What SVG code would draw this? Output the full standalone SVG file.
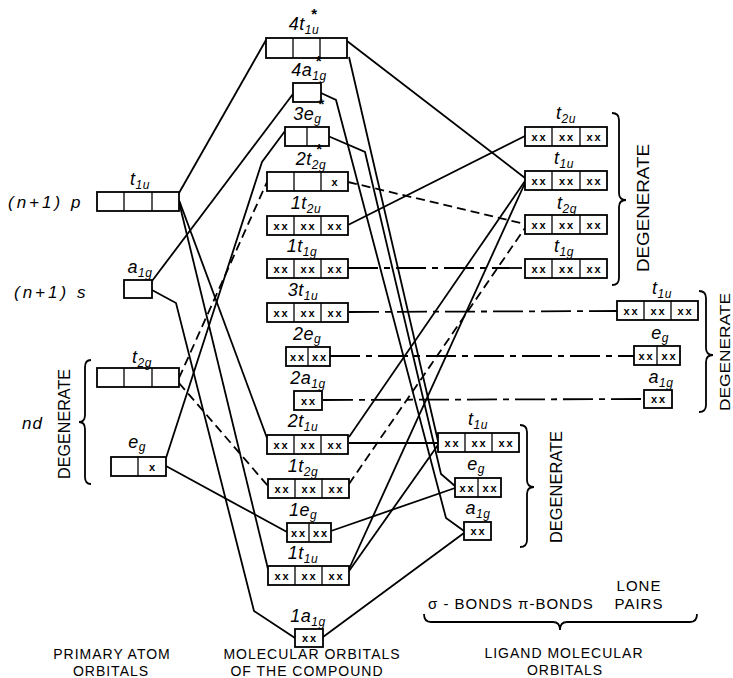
<svg xmlns="http://www.w3.org/2000/svg" width="733" height="678" viewBox="0 0 733 678">
<style>
.bx{fill:#fff;stroke:#000;stroke-width:1.8}
.dv{stroke:#000;stroke-width:1.3}
.xx{font-family:"Liberation Sans",Arial,sans-serif;font-size:11px;font-weight:bold;letter-spacing:2px;text-anchor:middle}
.lbl{font-family:"Liberation Sans",Arial,sans-serif;font-style:italic;font-size:18px;text-anchor:middle;letter-spacing:0.5px}
.sub{font-size:12px}
.ast{font-size:15px;font-style:normal;font-weight:bold}
.ln{stroke:#000;stroke-width:1.8;fill:none}
.dash{stroke-dasharray:9 5}
.chain{stroke-dasharray:30 6 6 6}
.txt{font-family:"Liberation Sans",Arial,sans-serif;font-size:15px;letter-spacing:1px}
.cap{font-family:"Liberation Sans",Arial,sans-serif;font-size:14px;letter-spacing:1px;text-anchor:middle}
.itx{font-family:"Liberation Sans",Arial,sans-serif;font-size:17px;font-style:italic;letter-spacing:3px}
.deg{font-family:"Liberation Sans",Arial,sans-serif;font-size:16px;text-anchor:middle}
.br{fill:none;stroke:#000;stroke-width:1.8}
</style>
<rect width="733" height="678" fill="#fff"/>

<g id="connectors">
<path class="ln" d="M179,193 L266,40"/>
<path class="ln" d="M179,200 L267,438"/>
<path class="ln" d="M179,202 L268,569"/>
<path class="ln" d="M152,281 L293,94"/>
<path class="ln" d="M152,290 L176,303 L254,611 L295,638"/>
<path class="ln" d="M166,458 L262,162 L285,131"/>
<path class="ln" d="M166,466 L287,532"/>
<path class="ln" d="M347,41 L525,178"/>
<path class="ln" d="M349,57 L438,441"/>
<path class="ln" d="M321,93 L336,100 L446,518 L464,531"/>
<path class="ln" d="M328,136 L365,152 L441,474 L455,486"/>
<path class="ln" d="M348,225 L525,136"/>
<path class="ln" d="M349,437 L525,181"/>
<path class="ln" d="M349,443 L438,443"/>
<path class="ln" d="M349,569 L525,183"/>
<path class="ln" d="M349,571 L438,445"/>
<path class="ln" d="M331,531 L455,488"/>
<path class="ln" d="M323,637 L464,533"/>
<path class="ln chain" d="M348,268 L525,268"/>
<path class="ln chain" d="M349,312 L617,311"/>
<path class="ln chain" d="M330,356 L634,356"/>
<path class="ln chain" d="M323,400 L644,399"/>
<path class="ln dash" d="M179,378 L267,182"/>
<path class="ln dash" d="M179,383 L268,486"/>
<path class="ln dash" d="M348,182 L525,224"/>
<path class="ln dash" d="M349,484 L525,228"/>
</g>

<!-- central molecular orbitals -->
<g id="mo-4t1u">
<rect class="bx" x="266" y="38" width="81" height="20"/>
<line class="dv" x1="293" y1="38" x2="293" y2="58"/><line class="dv" x1="320" y1="38" x2="320" y2="58"/>
<text class="lbl" x="304" y="30">4t<tspan class="sub" dy="4">1u</tspan><tspan class="ast" dx="-8" dy="-15">*</tspan></text>
</g>
<g id="mo-4a1g">
<rect class="bx" x="293" y="83" width="28" height="19"/>
<text class="lbl" x="309" y="76">4a<tspan class="sub" dy="4">1g</tspan><tspan class="ast" dx="-11" dy="-14">*</tspan></text>
</g>
<g id="mo-3eg">
<rect class="bx" x="285" y="127" width="44" height="19"/>
<line class="dv" x1="307" y1="127" x2="307" y2="146"/>
<text class="lbl" x="309" y="120">3e<tspan class="sub" dy="3">g</tspan><tspan class="ast" dx="-3" dy="-14">*</tspan></text>
</g>
<g id="mo-2t2g">
<rect class="bx" x="267" y="172" width="81" height="19"/>
<line class="dv" x1="294" y1="172" x2="294" y2="191"/><line class="dv" x1="321" y1="172" x2="321" y2="191"/>
<text class="xx" x="335.5" y="185.5">x</text>
<text class="lbl" x="311" y="165">2t<tspan class="sub" dy="4">2g</tspan><tspan class="ast" dx="-10" dy="-15">*</tspan></text>
</g>
<g id="mo-1t2u">
<rect class="bx" x="267" y="216" width="81" height="19"/>
<line class="dv" x1="294" y1="216" x2="294" y2="235"/><line class="dv" x1="321" y1="216" x2="321" y2="235"/>
<text class="xx" x="281.5" y="229.5">xx</text><text class="xx" x="308.5" y="229.5">xx</text><text class="xx" x="335.5" y="229.5">xx</text>
<text class="lbl" x="306" y="209">1t<tspan class="sub" dy="4">2u</tspan></text>
</g>
<g id="mo-1t1g">
<rect class="bx" x="267" y="259" width="81" height="19"/>
<line class="dv" x1="294" y1="259" x2="294" y2="278"/><line class="dv" x1="321" y1="259" x2="321" y2="278"/>
<text class="xx" x="281.5" y="272.5">xx</text><text class="xx" x="308.5" y="272.5">xx</text><text class="xx" x="335.5" y="272.5">xx</text>
<text class="lbl" x="302" y="252">1t<tspan class="sub" dy="4">1g</tspan></text>
</g>
<g id="mo-3t1u">
<rect class="bx" x="267" y="303" width="81" height="19"/>
<line class="dv" x1="294" y1="303" x2="294" y2="322"/><line class="dv" x1="321" y1="303" x2="321" y2="322"/>
<text class="xx" x="281.5" y="316.5">xx</text><text class="xx" x="308.5" y="316.5">xx</text><text class="xx" x="335.5" y="316.5">xx</text>
<text class="lbl" x="303" y="296">3t<tspan class="sub" dy="4">1u</tspan></text>
</g>
<g id="mo-2eg">
<rect class="bx" x="286" y="347" width="44" height="19"/>
<line class="dv" x1="308" y1="347" x2="308" y2="366"/>
<text class="xx" x="298" y="360.5">xx</text><text class="xx" x="320" y="360.5">xx</text>
<text class="lbl" x="307" y="340">2e<tspan class="sub" dy="3">g</tspan></text>
</g>
<g id="mo-2a1g">
<rect class="bx" x="294" y="391" width="28" height="19"/>
<text class="xx" x="309" y="404.5">xx</text>
<text class="lbl" x="308" y="384">2a<tspan class="sub" dy="4">1g</tspan></text>
</g>
<g id="mo-2t1u">
<rect class="bx" x="267" y="435" width="81" height="19"/>
<line class="dv" x1="294" y1="435" x2="294" y2="454"/><line class="dv" x1="321" y1="435" x2="321" y2="454"/>
<text class="xx" x="281.5" y="448.5">xx</text><text class="xx" x="308.5" y="448.5">xx</text><text class="xx" x="335.5" y="448.5">xx</text>
<text class="lbl" x="303" y="427">2t<tspan class="sub" dy="4">1u</tspan></text>
</g>
<g id="mo-1t2g">
<rect class="bx" x="268" y="479" width="81" height="19"/>
<line class="dv" x1="295" y1="479" x2="295" y2="498"/><line class="dv" x1="322" y1="479" x2="322" y2="498"/>
<text class="xx" x="282.5" y="492.5">xx</text><text class="xx" x="309.5" y="492.5">xx</text><text class="xx" x="336.5" y="492.5">xx</text>
<text class="lbl" x="303" y="472">1t<tspan class="sub" dy="4">2g</tspan></text>
</g>
<g id="mo-1eg">
<rect class="bx" x="287" y="523" width="44" height="19"/>
<line class="dv" x1="309" y1="523" x2="309" y2="542"/>
<text class="xx" x="299" y="536.5">xx</text><text class="xx" x="321" y="536.5">xx</text>
<text class="lbl" x="303" y="516">1e<tspan class="sub" dy="3">g</tspan></text>
</g>
<g id="mo-1t1u">
<rect class="bx" x="268" y="566" width="81" height="19"/>
<line class="dv" x1="295" y1="566" x2="295" y2="585"/><line class="dv" x1="322" y1="566" x2="322" y2="585"/>
<text class="xx" x="282.5" y="579.5">xx</text><text class="xx" x="309.5" y="579.5">xx</text><text class="xx" x="336.5" y="579.5">xx</text>
<text class="lbl" x="303" y="559">1t<tspan class="sub" dy="4">1u</tspan></text>
</g>
<g id="mo-1a1g">
<rect class="bx" x="295" y="629" width="28" height="18"/>
<text class="xx" x="310" y="642">xx</text>
<text class="lbl" x="308" y="622">1a<tspan class="sub" dy="4">1g</tspan></text>
</g>

<!-- primary atom orbitals -->
<g id="atom-p">
<text class="itx" x="8" y="208">(n+1) p</text>
<rect class="bx" x="97" y="192" width="82" height="19"/>
<line class="dv" x1="124" y1="192" x2="124" y2="211"/><line class="dv" x1="152" y1="192" x2="152" y2="211"/>
<text class="lbl" x="140" y="185">t<tspan class="sub" dy="4">1u</tspan></text>
</g>
<g id="atom-s">
<text class="itx" x="14" y="298">(n+1) s</text>
<rect class="bx" x="124" y="280" width="28" height="18"/>
<text class="lbl" x="140" y="273">a<tspan class="sub" dy="4">1g</tspan></text>
</g>
<g id="atom-t2g">
<rect class="bx" x="97" y="368" width="82" height="19"/>
<line class="dv" x1="124" y1="368" x2="124" y2="387"/><line class="dv" x1="152" y1="368" x2="152" y2="387"/>
<text class="lbl" x="142" y="363">t<tspan class="sub" dy="4">2g</tspan></text>
</g>
<g id="atom-eg">
<rect class="bx" x="111" y="457" width="55" height="19"/>
<line class="dv" x1="138" y1="457" x2="138" y2="476"/>
<text class="xx" x="153" y="470.5">x</text>
<text class="lbl" x="137" y="448">e<tspan class="sub" dy="3">g</tspan></text>
</g>
<g id="atom-nd">
<text class="itx" x="22" y="429" style="letter-spacing:1px">nd</text>
<path class="br" d="M91,360 Q85,360 85,367 L85,415 Q85,422 79,422 Q85,422 85,429 L85,477 Q85,484 91,484"/>
<text class="deg" transform="translate(70,424) rotate(-90)" textLength="110" lengthAdjust="spacingAndGlyphs">DEGENERATE</text>
</g>

<!-- ligand pi orbitals -->
<g id="lig-t2u">
<rect class="bx" x="525" y="127" width="82" height="19"/>
<line class="dv" x1="552" y1="127" x2="552" y2="146"/><line class="dv" x1="580" y1="127" x2="580" y2="146"/>
<text class="xx" x="539.5" y="140.5">xx</text><text class="xx" x="567" y="140.5">xx</text><text class="xx" x="594.5" y="140.5">xx</text>
<text class="lbl" x="566" y="119">t<tspan class="sub" dy="4">2u</tspan></text>
</g>
<g id="lig-t1u">
<rect class="bx" x="525" y="171" width="82" height="19"/>
<line class="dv" x1="552" y1="171" x2="552" y2="190"/><line class="dv" x1="580" y1="171" x2="580" y2="190"/>
<text class="xx" x="539.5" y="184.5">xx</text><text class="xx" x="567" y="184.5">xx</text><text class="xx" x="594.5" y="184.5">xx</text>
<text class="lbl" x="564" y="164">t<tspan class="sub" dy="4">1u</tspan></text>
</g>
<g id="lig-t2g">
<rect class="bx" x="525" y="215" width="82" height="19"/>
<line class="dv" x1="552" y1="215" x2="552" y2="234"/><line class="dv" x1="580" y1="215" x2="580" y2="234"/>
<text class="xx" x="539.5" y="228.5">xx</text><text class="xx" x="567" y="228.5">xx</text><text class="xx" x="594.5" y="228.5">xx</text>
<text class="lbl" x="567" y="209">t<tspan class="sub" dy="4">2g</tspan></text>
</g>
<g id="lig-t1g">
<rect class="bx" x="525" y="259" width="82" height="19"/>
<line class="dv" x1="552" y1="259" x2="552" y2="278"/><line class="dv" x1="580" y1="259" x2="580" y2="278"/>
<text class="xx" x="539.5" y="272.5">xx</text><text class="xx" x="567" y="272.5">xx</text><text class="xx" x="594.5" y="272.5">xx</text>
<text class="lbl" x="564" y="252">t<tspan class="sub" dy="4">1g</tspan></text>
</g>
<g id="lig-pi-brace">
<path class="br" d="M612,113 Q619,113 619,120 L619,193 Q619,200 626,200 Q619,200 619,207 L619,278 Q619,285 612,285"/>
<text class="deg" transform="translate(649,208) rotate(-90)" textLength="128" lengthAdjust="spacingAndGlyphs">DEGENERATE</text>
</g>

<!-- lone pairs -->
<g id="lp-t1u">
<rect class="bx" x="617" y="301" width="81" height="19"/>
<line class="dv" x1="644" y1="301" x2="644" y2="320"/><line class="dv" x1="671" y1="301" x2="671" y2="320"/>
<text class="xx" x="631.5" y="314.5">xx</text><text class="xx" x="658.5" y="314.5">xx</text><text class="xx" x="685.5" y="314.5">xx</text>
<text class="lbl" x="662" y="294">t<tspan class="sub" dy="4">1u</tspan></text>
</g>
<g id="lp-eg">
<rect class="bx" x="634" y="346" width="46" height="19"/>
<line class="dv" x1="657" y1="346" x2="657" y2="365"/>
<text class="xx" x="646.5" y="359.5">xx</text><text class="xx" x="669.5" y="359.5">xx</text>
<text class="lbl" x="660" y="339">e<tspan class="sub" dy="3">g</tspan></text>
</g>
<g id="lp-a1g">
<rect class="bx" x="644" y="390" width="28" height="18"/>
<text class="xx" x="659" y="403">xx</text>
<text class="lbl" x="661" y="383">a<tspan class="sub" dy="4">1g</tspan></text>
</g>
<g id="lp-brace">
<path class="br" d="M699,291 Q706,291 706,298 L706,348 Q706,355 713,355 Q706,355 706,362 L706,405 Q706,412 699,412"/>
<text class="deg" style="font-size:15px" transform="translate(730,352) rotate(-90)" textLength="118" lengthAdjust="spacingAndGlyphs">DEGENERATE</text>
</g>

<!-- ligand sigma orbitals -->
<g id="sig-t1u">
<rect class="bx" x="438" y="433" width="81" height="19"/>
<line class="dv" x1="465" y1="433" x2="465" y2="452"/><line class="dv" x1="492" y1="433" x2="492" y2="452"/>
<text class="xx" x="452.5" y="446.5">xx</text><text class="xx" x="479.5" y="446.5">xx</text><text class="xx" x="506.5" y="446.5">xx</text>
<text class="lbl" x="478" y="425">t<tspan class="sub" dy="4">1u</tspan></text>
</g>
<g id="sig-eg">
<rect class="bx" x="455" y="478" width="46" height="19"/>
<line class="dv" x1="478" y1="478" x2="478" y2="497"/>
<text class="xx" x="467.5" y="491.5">xx</text><text class="xx" x="490.5" y="491.5">xx</text>
<text class="lbl" x="476" y="470">e<tspan class="sub" dy="3">g</tspan></text>
</g>
<g id="sig-a1g">
<rect class="bx" x="464" y="522" width="27" height="18"/>
<text class="xx" x="478.5" y="535">xx</text>
<text class="lbl" x="478" y="514">a<tspan class="sub" dy="4">1g</tspan></text>
</g>
<g id="sig-brace">
<path class="br" d="M520,425 Q527,425 527,432 L527,480 Q527,487 534,487 Q527,487 527,494 L527,540 Q527,547 520,547"/>
<text class="deg" transform="translate(562,487) rotate(-90)" textLength="112" lengthAdjust="spacingAndGlyphs">DEGENERATE</text>
</g>

<!-- bottom captions -->
<g id="captions">
<text class="txt" x="428" y="609">σ - BONDS  π-BONDS</text>
<text class="txt" x="639" y="591" text-anchor="middle">LONE</text>
<text class="txt" x="639" y="609" text-anchor="middle">PAIRS</text>
<path class="br" d="M424,614 Q424,622 431,622 L553,622 Q560,622 560,630 Q560,622 567,622 L690,622 Q697,622 697,614"/>
<text class="cap" x="112" y="659">PRIMARY ATOM</text>
<text class="cap" x="111" y="676">ORBITALS</text>
<text class="cap" x="312" y="659">MOLECULAR ORBITALS</text>
<text class="cap" x="307" y="676">OF THE COMPOUND</text>
<text class="cap" x="564" y="658">LIGAND MOLECULAR</text>
<text class="cap" x="565" y="675">ORBITALS</text>
</g>
</svg>
